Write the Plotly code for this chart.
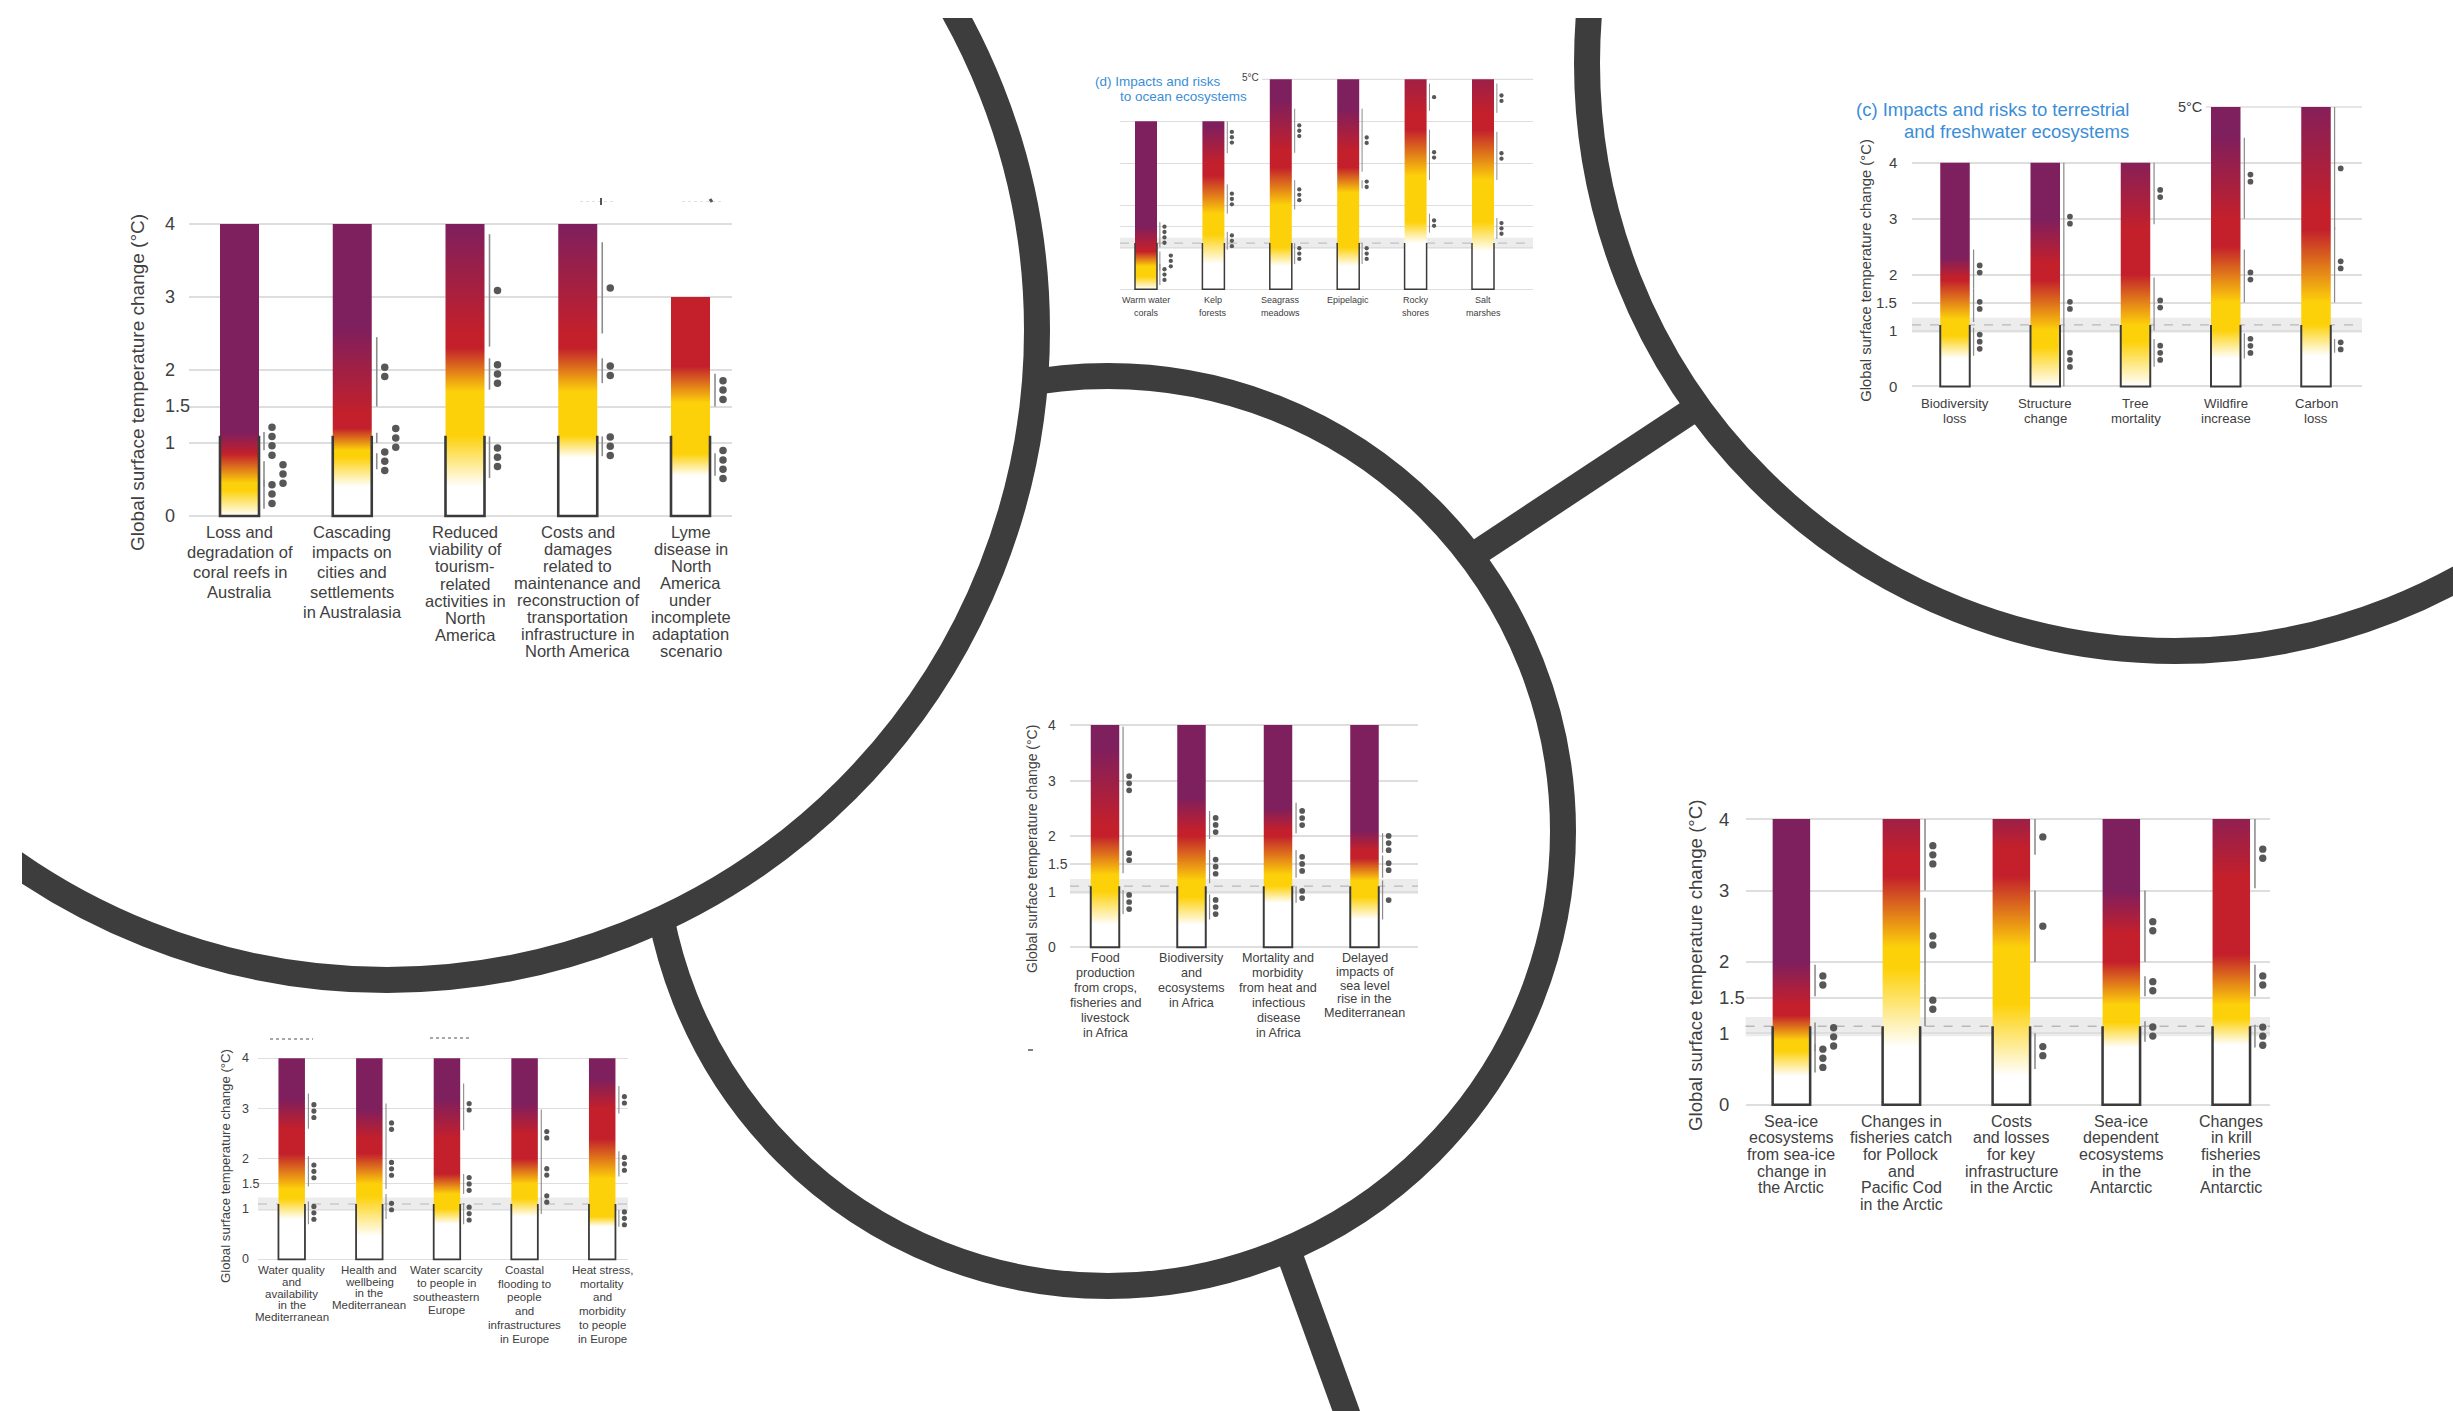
import plotly.graph_objects as go

W, H = 2453, 1411

# ======================= DATA =======================
WARMING_LEVEL = 1.1            # dashed line / outline top (°C)
WARMING_BAND = [0.96, 1.23]    # grey band (°C)
GRID_TEMPS = [0, 1, 1.5, 2, 3, 4]
TICK_TEXT = ["0", "1", "1.5", "2", "3", "4"]
AXIS_TITLE = "Global surface temperature change (°C)"

# ---- Australasia / North America ----
P1_labels = [
    "Loss and<br>degradation of<br>coral reefs in<br>Australia",
    "Cascading<br>impacts on<br>cities and<br>settlements<br>in Australasia",
    "Reduced<br>viability of<br>tourism-<br>related<br>activities in<br>North<br>America",
    "Costs and<br>damages<br>related to<br>maintenance and<br>reconstruction of<br>transportation<br>infrastructure in<br>North America",
    "Lyme<br>disease in<br>North<br>America<br>under<br>incomplete<br>adaptation<br>scenario",
]
P1_top = [4, 4, 4, 4, 3]
P1_white_yellow = [(0.0, 0.35), (0.4, 0.8), (0.4, 1.1), (0.8, 1.1), (0.55, 0.85)]
P1_yellow_red = [(0.45, 0.85), (0.9, 1.2), (1.7, 2.3), (1.7, 2.3), (1.55, 2.05)]
P1_red_purple = [(0.85, 1.15), (1.4, 2.6), (2.5, 4.0), (2.5, 4.0), None]
P1_confidence = [
    [(0.1, 0.5, 3), (0.4, 0.75, 3), (0.9, 1.15, 4)],
    [(0.64, 0.86, 3), (1.0, 1.14, 3), (1.5, 2.45, 2)],
    [(0.52, 1.09, 3), (1.73, 2.16, 3), (2.32, 3.86, 1)],
    [(0.82, 1.09, 3), (1.82, 2.16, 2), (2.5, 3.75, 1)],
    [(0.55, 0.86, 4), (1.5, 1.95, 3)],
]

# ---- (d) ocean ecosystems ----
P2_title = ["(d) Impacts and risks", "to ocean ecosystems"]
P2_labels = ["Warm water<br>corals", "Kelp<br>forests", "Seagrass<br>meadows",
             "Epipelagic", "Rocky<br>shores", "Salt<br>marshes"]
P2_top = [4, 4, 5, 5, 5, 5]
P2_white_yellow = [(0.0, 0.3), (0.6, 1.3), (0.55, 1.0), (0.55, 1.0), (1.1, 1.6), (0.9, 1.6)]
P2_yellow_red = [(0.55, 0.9), (1.8, 2.7), (2.0, 2.9), (2.3, 2.9), (2.7, 3.8), (2.6, 3.8)]
P2_red_purple = [(0.95, 1.5), (3.0, 3.9), (3.3, 4.5), (3.3, 4.3), (4.2, 5.8), (4.2, 5.6)]
P2_confidence = [
    [(0.1, 0.6, 3), (0.45, 0.9, 3), (1.0, 1.6, 4)],
    [(0.94, 1.37, 3), (1.8, 2.5, 3), (3.24, 4.0, 3)],
    [(0.6, 1.1, 3), (1.9, 2.6, 3), (3.25, 4.3, 3)],
    [(0.6, 1.1, 3), (2.4, 2.6, 2), (2.8, 4.3, 2)],
    [(1.35, 1.8, 2), (2.6, 3.8, 2), (4.25, 4.9, 1)],
    [(1.2, 1.7, 3), (2.6, 3.75, 2), (4.2, 4.9, 2)],
]

# ---- (c) terrestrial and freshwater ecosystems ----
P3_title = ["(c) Impacts and risks to terrestrial", "and freshwater ecosystems"]
P3_labels = ["Biodiversity<br>loss", "Structure<br>change", "Tree<br>mortality",
             "Wildfire<br>increase", "Carbon<br>loss"]
P3_top = [4, 4, 4, 5, 5]
P3_white_yellow = [(0.5, 0.9), (0.0, 0.7), (0.0, 0.8), (0.5, 1.0), (0.55, 1.1)]
P3_yellow_red = [(1.2, 1.9), (1.0, 1.9), (1.1, 2.0), (1.5, 2.5), (1.5, 2.8)]
P3_red_purple = [(1.95, 2.3), (2.2, 3.0), (2.8, 4.2), (3.0, 4.5), (3.2, 5.2)]
P3_confidence = [
    [(0.55, 1.05, 3), (1.15, 1.75, 2), (1.75, 2.45, 2)],
    [(0.0, 0.95, 3), (0.95, 1.95, 2), (1.95, 4.0, 2)],
    [(0.35, 0.85, 3), (1.0, 1.95, 2), (2.9, 4.0, 2)],
    [(0.5, 0.95, 3), (1.5, 2.45, 2), (3.0, 4.45, 2)],
    [(0.6, 0.85, 2), (1.5, 2.85, 2), (2.8, 5.0, 1)],
]

# ---- Africa / Mediterranean ----
P4_labels = [
    "Food<br>production<br>from crops,<br>fisheries and<br>livestock<br>in Africa",
    "Biodiversity<br>and<br>ecosystems<br>in Africa",
    "Mortality and<br>morbidity<br>from heat and<br>infectious<br>disease<br>in Africa",
    "Delayed<br>impacts of<br>sea level<br>rise in the<br>Mediterranean",
]
P4_top = [4, 4, 4, 4]
P4_white_yellow = [(0.4, 1.0), (0.4, 0.9), (0.8, 1.1), (0.5, 0.9)]
P4_yellow_red = [(1.3, 2.0), (1.2, 2.0), (1.3, 2.0), (1.2, 1.6)]
P4_red_purple = [(2.2, 3.6), (2.1, 2.7), (2.1, 2.5), (1.75, 2.1)]
P4_confidence = [
    [(0.6, 1.03, 3), (1.33, 1.93, 2), (1.93, 3.97, 3)],
    [(0.5, 0.95, 3), (1.15, 1.75, 3), (1.95, 2.45, 3)],
    [(0.8, 1.1, 2), (1.25, 1.75, 3), (2.05, 2.6, 3)],
    [(0.5, 1.2, 1), (1.25, 1.65, 2), (1.7, 2.05, 3)],
]

# ---- Europe / Mediterranean ----
P5_labels = [
    "Water quality<br>and<br>availability<br>in the<br>Mediterranean",
    "Health and<br>wellbeing<br>in the<br>Mediterranean",
    "Water scarcity<br>to people in<br>southeastern<br>Europe",
    "Coastal<br>flooding to<br>people<br>and<br>infrastructures<br>in Europe",
    "Heat stress,<br>mortality<br>and<br>morbidity<br>to people<br>in Europe",
]
P5_top = [4, 4, 4, 4, 4]
P5_white_yellow = [(0.8, 1.2), (0.45, 1.25), (0.7, 1.0), (0.85, 1.2), (0.65, 0.85)]
P5_yellow_red = [(1.4, 2.1), (1.5, 2.1), (1.3, 1.7), (1.5, 2.0), (1.6, 2.4)]
P5_red_purple = [(2.6, 3.2), (2.4, 3.0), (2.4, 3.2), (2.5, 3.1), (3.0, 3.6)]
P5_confidence = [
    [(0.7, 1.15, 3), (1.45, 2.05, 3), (2.6, 3.3, 3)],
    [(0.8, 1.3, 2), (1.4, 2.2, 3), (2.2, 3.1, 2)],
    [(0.7, 1.12, 3), (1.3, 1.7, 3), (2.57, 3.5, 2)],
    [(0.9, 1.5, 2), (1.5, 1.98, 2), (1.98, 2.98, 2)],
    [(0.65, 0.98, 3), (1.65, 2.15, 3), (2.9, 3.45, 2)],
]

# ---- Polar regions ----
P6_labels = [
    "Sea-ice<br>ecosystems<br>from sea-ice<br>change in<br>the Arctic",
    "Changes in<br>fisheries catch<br>for Pollock<br>and<br>Pacific Cod<br>in the Arctic",
    "Costs<br>and losses<br>for key<br>infrastructure<br>in the Arctic",
    "Sea-ice<br>dependent<br>ecosystems<br>in the<br>Antarctic",
    "Changes<br>in krill<br>fisheries<br>in the<br>Antarctic",
]
P6_top = [4, 4, 4, 4, 4]
P6_white_yellow = [(0.4, 0.75), (0.8, 1.9), (0.4, 1.4), (0.8, 1.15), (0.84, 1.2)]
P6_yellow_red = [(0.9, 1.25), (2.2, 3.2), (2.2, 3.2), (1.4, 2.0), (1.4, 2.1)]
P6_red_purple = [(1.4, 2.0), (3.5, 4.5), (3.6, 4.3), (2.4, 3.0), (3.2, 4.3)]
P6_confidence = [
    [(0.45, 0.85, 3), (0.75, 1.15, 3), (1.52, 1.96, 2)],
    [(1.1, 1.7, 2), (1.7, 2.9, 2), (3.0, 4.0, 3)],
    [(0.5, 1.0, 2), (2.0, 3.0, 1), (3.5, 4.0, 1)],
    [(0.88, 1.17, 2), (1.52, 1.8, 2), (2.0, 3.0, 2)],
    [(0.8, 1.12, 3), (1.52, 1.96, 2), (3.03, 4.0, 2)],
]

# ======================= STYLE / LAYOUT =======================
WHITE, YELLOW, RED, PURPLE = "#ffffff", "#fdd10a", "#c3202b", "#7e1f5e"
TXT = "#404040"
BLUE = "#3b8ed6"
GRID = "#dedede"
ARC = "#3d3d3d"
FONT = "Liberation Sans, Arial, sans-serif"

PANELS = [
    dict(labels=P1_labels, top=P1_top, wy=P1_white_yellow, yr=P1_yellow_red, rp=P1_red_purple,
         conf=P1_confidence, xl=189, xr=732, c0=239.5, c1=690.5, y0=516, ppu=73, ymax=4, bw=39,
         tick_x=163, tick_anchor="left", tick_size=18, title_x=137, title_y=383, title_size=19,
         lab_size=16.5, lab_d0=16, lab_ls=[20, 20, 17.2, 17, 17]),
    dict(labels=P2_labels, top=P2_top, wy=P2_white_yellow, yr=P2_yellow_red, rp=P2_red_purple,
         conf=P2_confidence, xl=1120, xr=1533, c0=1146, c1=1483, y0=289.3, ppu=42, ymax=5, bw=22,
         tick_x=None, title_x=None, lab_size=9, lab_d0=10.7, lab_ls=[13.3] * 6,
         heading=P2_title, head_pos=[(1093, 81.7), (1118, 96.7)], head_anchor="left", head_size=13.5,
         five=(1240, 78, 10), grid5_x=1262),
    dict(labels=P3_labels, top=P3_top, wy=P3_white_yellow, yr=P3_yellow_red, rp=P3_red_purple,
         conf=P3_confidence, xl=1912, xr=2362, c0=1955, c1=2316, y0=386.4, ppu=55.9, ymax=5, bw=29.5,
         tick_x=1898.5, tick_anchor="right", tick_size=15, title_x=1866, title_y=270.7, title_size=14.8,
         lab_size=13.2, lab_d0=16.8, lab_ls=[15] * 5,
         heading=P3_title, head_pos=[(2131, 109.7), (2131, 131.5)], head_anchor="right", head_size=18.5,
         five=(2176, 107, 14.5), grid5_x=2206),
    dict(labels=P4_labels, top=P4_top, wy=P4_white_yellow, yr=P4_yellow_red, rp=P4_red_purple,
         conf=P4_confidence, xl=1070, xr=1418, c0=1105, c1=1364.5, y0=947.3, ppu=55.6, ymax=4, bw=28.5,
         tick_x=1046, tick_anchor="left", tick_size=14, title_x=1032, title_y=849, title_size=14,
         lab_size=12.6, lab_d0=11, lab_ls=[15, 15, 15, 13.6]),
    dict(labels=P5_labels, top=P5_top, wy=P5_white_yellow, yr=P5_yellow_red, rp=P5_red_purple,
         conf=P5_confidence, xl=258, xr=628, c0=291.7, c1=602.2, y0=1259.3, ppu=50.25, ymax=4, bw=26.5,
         tick_x=240, tick_anchor="left", tick_size=12.5, title_x=225, title_y=1166, title_size=13.2,
         lab_size=11.5, lab_d0=10.7, lab_ls=[11.8, 11.7, 13.3, 13.7, 13.7]),
    dict(labels=P6_labels, top=P6_top, wy=P6_white_yellow, yr=P6_yellow_red, rp=P6_red_purple,
         conf=P6_confidence, xl=1745.6, xr=2270, c0=1791.4, c1=2231.3, y0=1104.7, ppu=71.4, ymax=4, bw=37.5,
         tick_x=1717, tick_anchor="left", tick_size=18.5, title_x=1695, title_y=965, title_size=18.7,
         lab_size=16, lab_d0=16.6, lab_ls=[16.6] * 5),
]

fig = go.Figure()
layout = dict(width=W, height=H, margin=dict(l=0, r=0, t=0, b=0),
              paper_bgcolor="white", plot_bgcolor="rgba(0,0,0,0)", showlegend=False)
shapes, annotations = [], []

# ---------- background axis (pixel coordinates) for the connecting circles ----------
CLIP_L, CLIP_T = 22, 18
layout["xaxis"] = dict(domain=[CLIP_L / W, 1], range=[CLIP_L, W], visible=False, anchor="y", fixedrange=True)
layout["yaxis"] = dict(domain=[0, 1 - CLIP_T / H], range=[H, CLIP_T], visible=False, anchor="x", fixedrange=True)
fig.add_trace(go.Scatter(x=[None], y=[None], xaxis="x", yaxis="y", hoverinfo="skip"))

CIRCLES = [  # (cx, cy, r, white fill)
    (1108, 831, 455, False),
    (387, 330, 650, True),
    (2175, 63, 588, False),
]
LINKS = [((1469, 558), (1699, 406)), ((1289, 1253), (1364, 1460))]
ARC_W = 26
for cx, cy, r, filled in CIRCLES:
    shapes.append(dict(type="circle", xref="x", yref="y", x0=cx - r, x1=cx + r, y0=cy - r, y1=cy + r,
                       line=dict(color=ARC, width=ARC_W),
                       fillcolor="white" if filled else "rgba(0,0,0,0)", layer="below"))
for (xa0, ya0), (xa1, ya1) in LINKS:
    shapes.append(dict(type="line", xref="x", yref="y", x0=xa0, y0=ya0, x1=xa1, y1=ya1,
                       line=dict(color=ARC, width=ARC_W), layer="below"))

# small cropped fragments visible at panel edges in the source collage
FRAGMENTS = [  # (x0, y0, x1, y1, colour, width, dash)
    (580, 201.5, 615, 201.5, "#e0e0e0", 1.2, "dot"),
    (601, 198, 601, 205, "#555555", 2, "solid"),
    (682, 201.5, 723, 201.5, "#e0e0e0", 1.2, "dot"),
    (710, 199, 712, 202, "#555555", 3, "solid"),
    (270, 1039, 313, 1039, "#8a8a8a", 1.6, "dot"),
    (430, 1038, 470, 1038, "#8a8a8a", 1.6, "dot"),
    (1028, 1050, 1033, 1050, "#555555", 1.5, "solid"),
]
for fx0, fy0, fx1, fy1, fc, fw, fd in FRAGMENTS:
    shapes.append(dict(type="line", xref="x", yref="y", x0=fx0, y0=fy0, x1=fx1, y1=fy1,
                       line=dict(color=fc, width=fw, dash=fd), layer="below"))


def ember_colorscale(top, wy, yr, rp):
    stops = [(0.0, WHITE)]
    for rng, c_from, c_to in ((wy, WHITE, YELLOW), (yr, YELLOW, RED), (rp, RED, PURPLE)):
        if rng is None:
            continue
        stops.append((rng[0], c_from))
        stops.append((rng[1], c_to))
    hi = max(top, stops[-1][0]) + 0.01
    stops.append((hi, stops[-1][1]))
    out, prev = [], -1.0
    for v, c in stops:
        v = max(v, prev + 1e-3)
        out.append([v, c])
        prev = v
    end = out[-1][0]
    return [[v / end, c] for v, c in out], end


for k, P in enumerate(PANELS):
    ax = k + 2
    xr_, yr_ = f"x{ax}", f"y{ax}"
    n = len(P["labels"])
    sp = (P["c1"] - P["c0"]) / (n - 1)
    ppu = P["ppu"]
    s = ppu / 73.0
    pad = 3
    ytop_px = P["y0"] - P["ymax"] * ppu
    layout[f"xaxis{ax}"] = dict(domain=[P["xl"] / W, P["xr"] / W],
                                range=[(P["xl"] - P["c0"]) / sp, (P["xr"] - P["c0"]) / sp],
                                visible=False, anchor=yr_, fixedrange=True)
    layout[f"yaxis{ax}"] = dict(domain=[1 - (P["y0"] + pad) / H, 1 - (ytop_px - pad) / H],
                                range=[-pad / ppu, P["ymax"] + pad / ppu],
                                tickvals=GRID_TEMPS, showticklabels=False, ticks="",
                                showgrid=True, gridcolor=GRID, gridwidth=max(1.0, 2.0 * s),
                                zeroline=False, showline=False, anchor=xr_, fixedrange=True)

    # current warming band + dashed line
    shapes.append(dict(type="rect", xref=f"{xr_} domain", yref=yr_, x0=0, x1=1,
                       y0=WARMING_BAND[0], y1=WARMING_BAND[1], fillcolor="#ececec",
                       line=dict(width=0), layer="below"))
    shapes.append(dict(type="line", xref=f"{xr_} domain", yref=yr_, x0=0, x1=1,
                       y0=WARMING_LEVEL, y1=WARMING_LEVEL,
                       line=dict(color="#b8b8b8", width=max(1.0, 1.6 * s), dash="dash"), layer="below"))
    if P.get("grid5_x"):
        shapes.append(dict(type="line", xref="paper", yref=yr_, x0=P["grid5_x"] / W, x1=P["xr"] / W,
                           y0=5, y1=5, line=dict(color=GRID, width=max(1.0, 2.0 * s)), layer="below"))

    hw = P["bw"] / 2 / sp
    ox, oy = [], []
    lx, ly, dx, dy = [], [], [], []
    dot_step = 9.3 * s / ppu
    for i in range(n):
        top = P["top"][i]
        cs, end = ember_colorscale(top, P["wy"][i], P["yr"][i], P["rp"][i])
        fig.add_trace(go.Scatter(
            x=[i - hw, i + hw, i + hw, i - hw, i - hw], y=[0, 0, top, top, 0],
            xaxis=xr_, yaxis=yr_, mode="lines", line=dict(width=0), fill="toself",
            fillgradient=dict(type="vertical", colorscale=cs, start=0, stop=end),
            hoverinfo="skip"))
        # outline of the lower part of each ember
        ox += [i - hw, i - hw, i + hw, i + hw, None]
        oy += [WARMING_LEVEL, 0, 0, WARMING_LEVEL, None]
        # confidence ranges and dots
        occupied = []
        for lo, hi, nd in P["conf"][i]:
            mid = (lo + hi) / 2
            half = nd * dot_step / 2
            e0, e1 = mid - half, mid + half
            col = 1 if any(e0 < b1 + 0.4 * dot_step and e1 > b0 - 0.4 * dot_step for b0, b1 in occupied) else 0
            if col == 0:
                occupied.append((e0, e1))
            lxp = i + hw + 5 * s / sp
            lx += [lxp, lxp, None]
            ly += [lo, hi, None]
            dxp = i + hw + (13 if col == 0 else 24) * s / sp
            for j in range(nd):
                dx.append(dxp)
                dy.append(mid + (j - (nd - 1) / 2) * dot_step)
    fig.add_trace(go.Scatter(x=lx, y=ly, xaxis=xr_, yaxis=yr_, mode="lines",
                             line=dict(color="#8c8c8c", width=max(1.0, 1.6 * s)), hoverinfo="skip"))
    fig.add_trace(go.Scatter(x=dx, y=dy, xaxis=xr_, yaxis=yr_, mode="markers", cliponaxis=False,
                             marker=dict(color="#575757", size=7.5 * s, line=dict(width=0)),
                             hoverinfo="skip"))
    fig.add_trace(go.Scatter(x=ox, y=oy, xaxis=xr_, yaxis=yr_, mode="lines",
                             line=dict(color="#3a3a3a", width=max(1.2, 2.6 * s)), hoverinfo="skip"))

    # tick labels
    if P.get("tick_x") is not None:
        for v, t in zip(GRID_TEMPS, TICK_TEXT):
            annotations.append(dict(x=P["tick_x"] / W, xref="paper", y=v, yref=yr_, text=t,
                                    xanchor=P["tick_anchor"], yanchor="middle", showarrow=False,
                                    font=dict(family=FONT, size=P["tick_size"], color=TXT)))
    if P.get("title_x") is not None:
        annotations.append(dict(x=P["title_x"] / W, xref="paper", y=1 - P["title_y"] / H, yref="paper",
                                text=AXIS_TITLE, textangle=-90, xanchor="center", yanchor="middle",
                                showarrow=False, font=dict(family=FONT, size=P["title_size"], color=TXT)))
    # category labels, line by line
    for i, lab in enumerate(P["labels"]):
        for j, line in enumerate(lab.split("<br>")):
            annotations.append(dict(x=i, xref=xr_, y=0, yref=yr_, text=line, showarrow=False,
                                    xanchor="center", yanchor="middle",
                                    yshift=-(P["lab_d0"] + j * P["lab_ls"][i]),
                                    font=dict(family=FONT, size=P["lab_size"], color=TXT)))
    if P.get("heading"):
        for line, (hx, hy) in zip(P["heading"], P["head_pos"]):
            annotations.append(dict(x=hx / W, xref="paper", y=1 - hy / H, yref="paper", text=line,
                                    xanchor=P["head_anchor"], yanchor="middle", showarrow=False,
                                    font=dict(family=FONT, size=P["head_size"], color=BLUE)))
    if P.get("five"):
        fx, fy, fs = P["five"]
        annotations.append(dict(x=fx / W, xref="paper", y=1 - fy / H, yref="paper", text="5°C",
                                xanchor="left", yanchor="middle", showarrow=False,
                                font=dict(family=FONT, size=fs, color=TXT)))

layout["shapes"] = shapes
layout["annotations"] = annotations
fig.update_layout(**layout)
fig.write_html("out.html", config={"displayModeBar": False},
               post_script="document.body.style.margin='0px';")
